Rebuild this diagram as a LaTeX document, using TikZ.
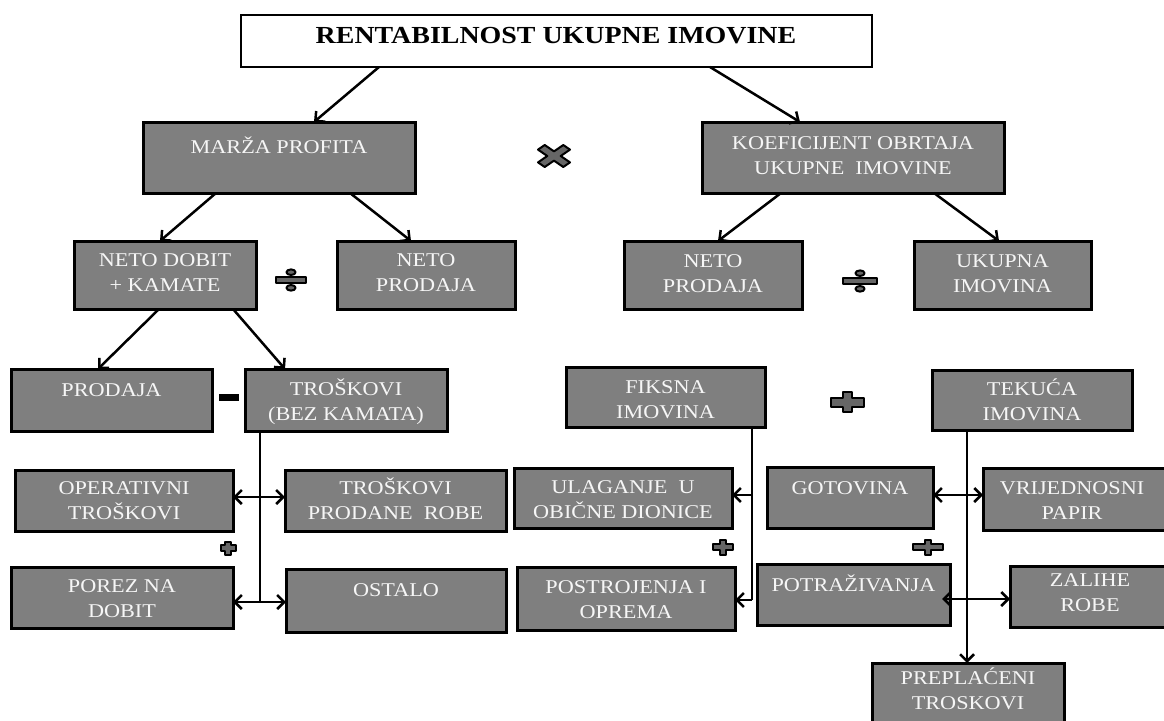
\documentclass[tikz,border=0pt]{standalone}
\usepackage{fontspec}
\setmainfont{Liberation Serif}[FakeStretch=1.14]
\usetikzlibrary{arrows.meta}
\definecolor{boxgray}{HTML}{7F7F7F}
\definecolor{symgray}{HTML}{666666}
\definecolor{txtcol}{HTML}{F6F6F6}
\newcommand\st{\rule[-0.29em]{0pt}{1.24em}}
\newcommand\gb[6][gbox]{\node[#1,minimum width={#5-#3},minimum height={#6-#4}] (#2) at ({(#3+#5)/2},{(#4+#6)/2}) {};}
\newcommand\tx[4][gtext]{\node[#1] (#2) at (#3) {#4};}
\newcommand\plussign[5]{\path[sym] ({#1-#3},{#2-#5}) -- ({#1-#5},{#2-#5}) -- ({#1-#5},{#2-#4}) -- ({#1+#5},{#2-#4}) -- ({#1+#5},{#2-#5}) -- ({#1+#3},{#2-#5}) -- ({#1+#3},{#2+#5}) -- ({#1+#5},{#2+#5}) -- ({#1+#5},{#2+#4}) -- ({#1-#5},{#2+#4}) -- ({#1-#5},{#2+#5}) -- ({#1-#3},{#2+#5}) -- cycle;}
\newcommand\divsign[3]{\path[sym] ({#1-#3},{#2-2.8}) rectangle ({#1+#3},{#2+2.8});
  \path[sym] (#1,{#2-7.8}) ellipse [x radius=4.6,y radius=2.8];
  \path[sym] (#1,{#2+7.8}) ellipse [x radius=4.6,y radius=2.8];}
\begin{document}
\begin{tikzpicture}[x=1pt,y=-1pt,
  gbox/.style={draw=black,line width=3pt,fill=boxgray,inner sep=0pt,outer sep=0pt},
  tbox/.style={draw=black,line width=2.8pt,fill=white,inner sep=0pt,outer sep=0pt},
  gtext/.style={text=txtcol,font=\fontsize{19.5}{25}\selectfont,align=center,inner sep=0pt},
  ttext/.style={text=black,font=\fontsize{24.5}{28}\selectfont\bfseries,inner sep=0pt},
  conn/.style={line width=2.5pt,draw=black},
  arr/.style={conn,-{Straight Barb[length=7pt,width=14pt]}},
  darr/.style={conn,{Straight Barb[length=7pt,width=14pt]}-{Straight Barb[length=7pt,width=14pt]}},
  sym/.style={draw=black,line width=2pt,fill=symgray,line join=round},
]
\useasboundingbox (0,0) rectangle (1164,720);
% boxes and texts
\gb[tbox]{title}{241}{15}{872}{67}
\tx[ttext]{titlet}{556,35}{\st RENTABILNOST UKUPNE IMOVINE}
\gb{marza}{143}{122}{415}{193}
\tx{marzat}{279,147}{\st MARŽA PROFITA}
\gb{koef}{702}{122}{1004}{193}
\tx{koeft}{853,155.5}{\st KOEFICIJENT OBRTAJA\\\st UKUPNE~ IMOVINE}
\gb{ndk}{74}{241}{256}{309}
\tx{ndkt}{165,272.5}{\st NETO DOBIT\\\st + KAMATE}
\gb{npl}{337}{241}{515}{309}
\tx{nplt}{426,272.5}{\st NETO\\\st PRODAJA}
\gb{npr}{624}{241}{802}{309}
\tx{nprt}{713,273.5}{\st NETO\\\st PRODAJA}
\gb{uku}{914}{241}{1091}{309}
\tx{ukut}{1002.5,273.5}{\st UKUPNA\\\st IMOVINA}
\gb{prod}{11}{369}{212}{431}
\tx{prodt}{111.5,390}{\st PRODAJA}
\gb{tbk}{245}{369}{447}{431}
\tx{tbkt}{346,402}{\st TROŠKOVI\\\st (BEZ KAMATA)}
\gb{fik}{566}{367}{765}{427}
\tx{fikt}{665.5,399.5}{\st FIKSNA\\\st IMOVINA}
\gb{tek}{932}{370}{1132}{430}
\tx{tekt}{1032,402}{\st TEKUĆA\\\st IMOVINA}
\gb{opt}{15}{470}{233}{531}
\tx{optt}{124,501}{\st OPERATIVNI\\\st TROŠKOVI}
\gb{tpr}{285}{470}{506}{531}
\tx{tprt}{395.5,501}{\st TROŠKOVI\\\st PRODANE~ ROBE}
\gb{por}{11}{567}{233}{628}
\tx{port}{122,598.5}{\st POREZ NA\\\st DOBIT}
\gb{ost}{286}{569}{506}{632}
\tx{ostt}{396,590}{\st OSTALO}
\gb{ula}{514}{468}{732}{528}
\tx{ulat}{623,499.5}{\st ULAGANJE~ U\\\st OBIČNE DIONICE}
\gb{pos}{517}{567}{735}{630}
\tx{post}{626,599.5}{\st POSTROJENJA I\\\st OPREMA}
\gb{got}{767}{467}{933}{528}
\tx{gott}{850,488}{\st GOTOVINA}
\gb{vri}{983}{468}{1170}{530}
\tx{vrit}{1072,500.5}{\st VRIJEDNOSNI\\\st PAPIR}
\gb{pot}{757}{564}{950}{625}
\tx{pott}{853.5,585}{\st POTRAŽIVANJA}
\gb{zal}{1010}{566}{1170}{627}
\tx{zalt}{1090,593}{\st ZALIHE\\\st ROBE}
\gb{pre}{872}{663}{1064}{740}
\tx{pret}{968,691}{\st PREPLAĆENI\\\st TROSKOVI}
% connectors
\draw[arr] ([xshift=-177.5pt]title.south) -- ([xshift=35pt]marza.north);
\draw[arr] ([xshift=153.5pt]title.south) -- ([xshift=-53pt]koef.north);
\draw[arr] ([xshift=-63pt]marza.south) -- ([xshift=-5pt]ndk.north);
\draw[arr] ([xshift=71pt]marza.south) -- ([xshift=-15pt]npl.north);
\draw[arr] ([xshift=-72pt]koef.south) -- ([xshift=5pt]npr.north);
\draw[arr] ([xshift=81pt]koef.south) -- ([xshift=-3.5pt]uku.north);
\draw[arr] ([xshift=-6pt]ndk.south) -- ([xshift=-13.5pt]prod.north);
\draw[arr] ([xshift=68pt]ndk.south) -- ([xshift=-61pt]tbk.north);
\coordinate (j1) at (260,497);
\coordinate (j2) at (260,602);
\draw[conn] (tbk.south -| j1) -- (j2);
\draw[darr] (opt.east |- j1) -- (tpr.west |- j1);
\draw[darr] (por.east |- j2) -- (ost.west |- j2);
\coordinate (k1) at (752,495);
\coordinate (k2) at (752,600);
\draw[conn] (fik.south -| k1) -- (k2);
\draw[arr] (k1) -- (ula.east |- k1);
\draw[arr] (k2) -- (pos.east |- k2);
\coordinate (m1) at (967,495);
\coordinate (m2) at (967,599);
\coordinate (m2l) at (942,599);
\draw[arr] (tek.south -| m1) -- (pre.north -| m1);
\draw[darr] (got.east |- m1) -- (vri.west |- m1);
\draw[darr] (m2l) -- (zal.west |- m2);
% operator symbols
\begin{scope}[shift={(554,156)},xscale=16,yscale=11]
\path[sym] (0,-.42) -- (.58,-1) -- (1,-.58) -- (.42,0) -- (1,.58) -- (.58,1) -- (0,.42) -- (-.58,1) -- (-1,.58) -- (-.42,0) -- (-1,-.58) -- (-.58,-1) -- cycle;
\end{scope}
\divsign{291}{280}{15}
\divsign{860}{281}{17}
\fill[black] (219,394) rectangle (239,401);
\plussign{847}{402}{16.5}{10}{4.5}
\plussign{228}{548}{7.5}{6.5}{2.8}
\plussign{723}{547}{10}{7.5}{3.2}
\plussign{928}{547}{15}{7.5}{3.2}
\end{tikzpicture}
\end{document}
